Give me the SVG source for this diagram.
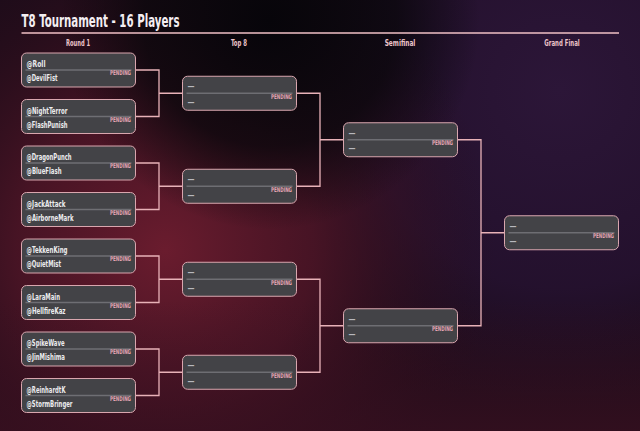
<svg xmlns="http://www.w3.org/2000/svg" width="640" height="431" viewBox="0 0 640 431">
<defs>
<radialGradient id="gRed" cx="165" cy="250" r="330" gradientUnits="userSpaceOnUse">
<stop offset="0" stop-color="#6a1c2e"/>
<stop offset="0.45" stop-color="#4e1526" stop-opacity="0.85"/>
<stop offset="1" stop-color="#2a0c18" stop-opacity="0"/>
</radialGradient>
<radialGradient id="gPurple" cx="560" cy="90" r="330" gradientUnits="userSpaceOnUse">
<stop offset="0" stop-color="#2c1638"/>
<stop offset="0.6" stop-color="#261232" stop-opacity="0.8"/>
<stop offset="1" stop-color="#1e0e26" stop-opacity="0"/>
</radialGradient>
<radialGradient id="gDark" cx="270" cy="20" r="210" gradientUnits="userSpaceOnUse">
<stop offset="0" stop-color="#07050a"/>
<stop offset="0.6" stop-color="#0a070c" stop-opacity="0.8"/>
<stop offset="1" stop-color="#0a070c" stop-opacity="0"/>
</radialGradient>
<linearGradient id="gBottom" x1="0" y1="300" x2="0" y2="431" gradientUnits="userSpaceOnUse">
<stop offset="0" stop-color="#3a1020" stop-opacity="0"/>
<stop offset="1" stop-color="#3a1020" stop-opacity="0.7"/>
</linearGradient>
<style>
.txt{font-family:"Liberation Sans Narrow","DejaVu Sans Condensed","Liberation Sans",sans-serif;font-weight:700}
.box{fill:#434347;stroke:#d9a6ae;stroke-width:1}
.dv{stroke:#6e6e73;stroke-width:1.3}
.nm{font-size:9px;fill:#ececee}
.tbd{font-size:9px;fill:#b8b8bd}
.pend{font-size:6.5px;fill:#e2a4b2;text-anchor:end}
.conn{fill:none;stroke:#e8b2b8;stroke-width:1.3}
.col{font-size:8.5px;fill:#ecc4ca;text-anchor:middle}
</style>
</defs>
<rect width="640" height="431" fill="#1c0c1a"/>
<rect width="640" height="431" fill="url(#gPurple)"/>
<rect width="640" height="431" fill="url(#gRed)"/>
<rect width="640" height="431" fill="url(#gBottom)"/>
<rect width="640" height="431" fill="url(#gDark)"/>

<g id="header">
<text class="txt" x="21.5" y="26.7" font-size="17.5" fill="#f4eef2" textLength="158" lengthAdjust="spacingAndGlyphs">T8 Tournament - 16 Players</text>
<line x1="21.5" y1="33" x2="619" y2="33" stroke="#f0c0c6" stroke-width="1.5"/>
<text class="txt col" x="78" y="45.5" textLength="24" lengthAdjust="spacingAndGlyphs">Round 1</text>
<text class="txt col" x="239" y="45.5" textLength="16" lengthAdjust="spacingAndGlyphs">Top 8</text>
<text class="txt col" x="400" y="45.5" textLength="30.7" lengthAdjust="spacingAndGlyphs">Semifinal</text>
<text class="txt col" x="562" y="45.5" textLength="35.3" lengthAdjust="spacingAndGlyphs">Grand Final</text>
</g>

<g id="connectors" class="conn">
<path d="M135.5 70H159V116.5H135.5M159 93.25H182.5"/>
<path d="M135.5 163H159V209.5H135.5M159 186.25H182.5"/>
<path d="M135.5 256H159V302.5H135.5M159 279.25H182.5"/>
<path d="M135.5 349H159V395.5H135.5M159 372.25H182.5"/>
<path d="M296.5 93.25H320V186.25H296.5M320 139.75H343.5"/>
<path d="M296.5 279.25H320V372.25H296.5M320 325.75H343.5"/>
<path d="M457.5 139.75H481V325.75H457.5M481 232.75H504.5"/>
</g>

<g id="r1-m1" transform="translate(21.5,53)"><rect class="box" width="114" height="34" rx="5"/><line class="dv" x1="4" y1="17" x2="110" y2="17"/><text class="txt nm" x="5" y="14" textLength="19" lengthAdjust="spacingAndGlyphs">@Roll</text><text class="txt nm" x="5" y="28.3" textLength="31" lengthAdjust="spacingAndGlyphs">@DevilFist</text><text class="txt pend" x="109.5" y="22.3" textLength="21" lengthAdjust="spacingAndGlyphs">PENDING</text></g>
<g id="r1-m2" transform="translate(21.5,99.5)"><rect class="box" width="114" height="34" rx="5"/><line class="dv" x1="4" y1="17" x2="110" y2="17"/><text class="txt nm" x="5" y="14" textLength="41" lengthAdjust="spacingAndGlyphs">@NightTerror</text><text class="txt nm" x="5" y="28.3" textLength="41" lengthAdjust="spacingAndGlyphs">@FlashPunish</text><text class="txt pend" x="109.5" y="22.3" textLength="21" lengthAdjust="spacingAndGlyphs">PENDING</text></g>
<g id="r1-m3" transform="translate(21.5,146)"><rect class="box" width="114" height="34" rx="5"/><line class="dv" x1="4" y1="17" x2="110" y2="17"/><text class="txt nm" x="5" y="14" textLength="45" lengthAdjust="spacingAndGlyphs">@DragonPunch</text><text class="txt nm" x="5" y="28.3" textLength="35" lengthAdjust="spacingAndGlyphs">@BlueFlash</text><text class="txt pend" x="109.5" y="22.3" textLength="21" lengthAdjust="spacingAndGlyphs">PENDING</text></g>
<g id="r1-m4" transform="translate(21.5,192.5)"><rect class="box" width="114" height="34" rx="5"/><line class="dv" x1="4" y1="17" x2="110" y2="17"/><text class="txt nm" x="5" y="14" textLength="39" lengthAdjust="spacingAndGlyphs">@JackAttack</text><text class="txt nm" x="5" y="28.3" textLength="47" lengthAdjust="spacingAndGlyphs">@AirborneMark</text><text class="txt pend" x="109.5" y="22.3" textLength="21" lengthAdjust="spacingAndGlyphs">PENDING</text></g>
<g id="r1-m5" transform="translate(21.5,239)"><rect class="box" width="114" height="34" rx="5"/><line class="dv" x1="4" y1="17" x2="110" y2="17"/><text class="txt nm" x="5" y="14" textLength="41" lengthAdjust="spacingAndGlyphs">@TekkenKing</text><text class="txt nm" x="5" y="28.3" textLength="34.5" lengthAdjust="spacingAndGlyphs">@QuietMist</text><text class="txt pend" x="109.5" y="22.3" textLength="21" lengthAdjust="spacingAndGlyphs">PENDING</text></g>
<g id="r1-m6" transform="translate(21.5,285.5)"><rect class="box" width="114" height="34" rx="5"/><line class="dv" x1="4" y1="17" x2="110" y2="17"/><text class="txt nm" x="5" y="14" textLength="33.5" lengthAdjust="spacingAndGlyphs">@LaraMain</text><text class="txt nm" x="5" y="28.3" textLength="39" lengthAdjust="spacingAndGlyphs">@HellfireKaz</text><text class="txt pend" x="109.5" y="22.3" textLength="21" lengthAdjust="spacingAndGlyphs">PENDING</text></g>
<g id="r1-m7" transform="translate(21.5,332)"><rect class="box" width="114" height="34" rx="5"/><line class="dv" x1="4" y1="17" x2="110" y2="17"/><text class="txt nm" x="5" y="14" textLength="38" lengthAdjust="spacingAndGlyphs">@SpikeWave</text><text class="txt nm" x="5" y="28.3" textLength="38.5" lengthAdjust="spacingAndGlyphs">@JinMishima</text><text class="txt pend" x="109.5" y="22.3" textLength="21" lengthAdjust="spacingAndGlyphs">PENDING</text></g>
<g id="r1-m8" transform="translate(21.5,378.5)"><rect class="box" width="114" height="34" rx="5"/><line class="dv" x1="4" y1="17" x2="110" y2="17"/><text class="txt nm" x="5" y="14" textLength="39" lengthAdjust="spacingAndGlyphs">@ReinhardtK</text><text class="txt nm" x="5" y="28.3" textLength="46" lengthAdjust="spacingAndGlyphs">@StormBringer</text><text class="txt pend" x="109.5" y="22.3" textLength="21" lengthAdjust="spacingAndGlyphs">PENDING</text></g>

<g id="t8-m1" transform="translate(182.5,76.25)"><rect class="box" width="114" height="34" rx="5"/><line class="dv" x1="4" y1="17" x2="110" y2="17"/><text class="txt tbd" x="5" y="13" textLength="7" lengthAdjust="spacingAndGlyphs">—</text><text class="txt tbd" x="5" y="28.3" textLength="7" lengthAdjust="spacingAndGlyphs">—</text><text class="txt pend" x="109.5" y="22.3" textLength="21" lengthAdjust="spacingAndGlyphs">PENDING</text></g>
<g id="t8-m2" transform="translate(182.5,169.25)"><rect class="box" width="114" height="34" rx="5"/><line class="dv" x1="4" y1="17" x2="110" y2="17"/><text class="txt tbd" x="5" y="13" textLength="7" lengthAdjust="spacingAndGlyphs">—</text><text class="txt tbd" x="5" y="28.3" textLength="7" lengthAdjust="spacingAndGlyphs">—</text><text class="txt pend" x="109.5" y="22.3" textLength="21" lengthAdjust="spacingAndGlyphs">PENDING</text></g>
<g id="t8-m3" transform="translate(182.5,262.25)"><rect class="box" width="114" height="34" rx="5"/><line class="dv" x1="4" y1="17" x2="110" y2="17"/><text class="txt tbd" x="5" y="13" textLength="7" lengthAdjust="spacingAndGlyphs">—</text><text class="txt tbd" x="5" y="28.3" textLength="7" lengthAdjust="spacingAndGlyphs">—</text><text class="txt pend" x="109.5" y="22.3" textLength="21" lengthAdjust="spacingAndGlyphs">PENDING</text></g>
<g id="t8-m4" transform="translate(182.5,355.25)"><rect class="box" width="114" height="34" rx="5"/><line class="dv" x1="4" y1="17" x2="110" y2="17"/><text class="txt tbd" x="5" y="13" textLength="7" lengthAdjust="spacingAndGlyphs">—</text><text class="txt tbd" x="5" y="28.3" textLength="7" lengthAdjust="spacingAndGlyphs">—</text><text class="txt pend" x="109.5" y="22.3" textLength="21" lengthAdjust="spacingAndGlyphs">PENDING</text></g>

<g id="sf-m1" transform="translate(343.5,122.75)"><rect class="box" width="114" height="34" rx="5"/><line class="dv" x1="4" y1="17" x2="110" y2="17"/><text class="txt tbd" x="5" y="13" textLength="7" lengthAdjust="spacingAndGlyphs">—</text><text class="txt tbd" x="5" y="28.3" textLength="7" lengthAdjust="spacingAndGlyphs">—</text><text class="txt pend" x="109.5" y="22.3" textLength="21" lengthAdjust="spacingAndGlyphs">PENDING</text></g>
<g id="sf-m2" transform="translate(343.5,308.75)"><rect class="box" width="114" height="34" rx="5"/><line class="dv" x1="4" y1="17" x2="110" y2="17"/><text class="txt tbd" x="5" y="13" textLength="7" lengthAdjust="spacingAndGlyphs">—</text><text class="txt tbd" x="5" y="28.3" textLength="7" lengthAdjust="spacingAndGlyphs">—</text><text class="txt pend" x="109.5" y="22.3" textLength="21" lengthAdjust="spacingAndGlyphs">PENDING</text></g>

<g id="gf-m1" transform="translate(504.5,215.75)"><rect class="box" width="114" height="34" rx="5"/><line class="dv" x1="4" y1="17" x2="110" y2="17"/><text class="txt tbd" x="5" y="13" textLength="7" lengthAdjust="spacingAndGlyphs">—</text><text class="txt tbd" x="5" y="28.3" textLength="7" lengthAdjust="spacingAndGlyphs">—</text><text class="txt pend" x="109.5" y="22.3" textLength="21" lengthAdjust="spacingAndGlyphs">PENDING</text></g>
</svg>
